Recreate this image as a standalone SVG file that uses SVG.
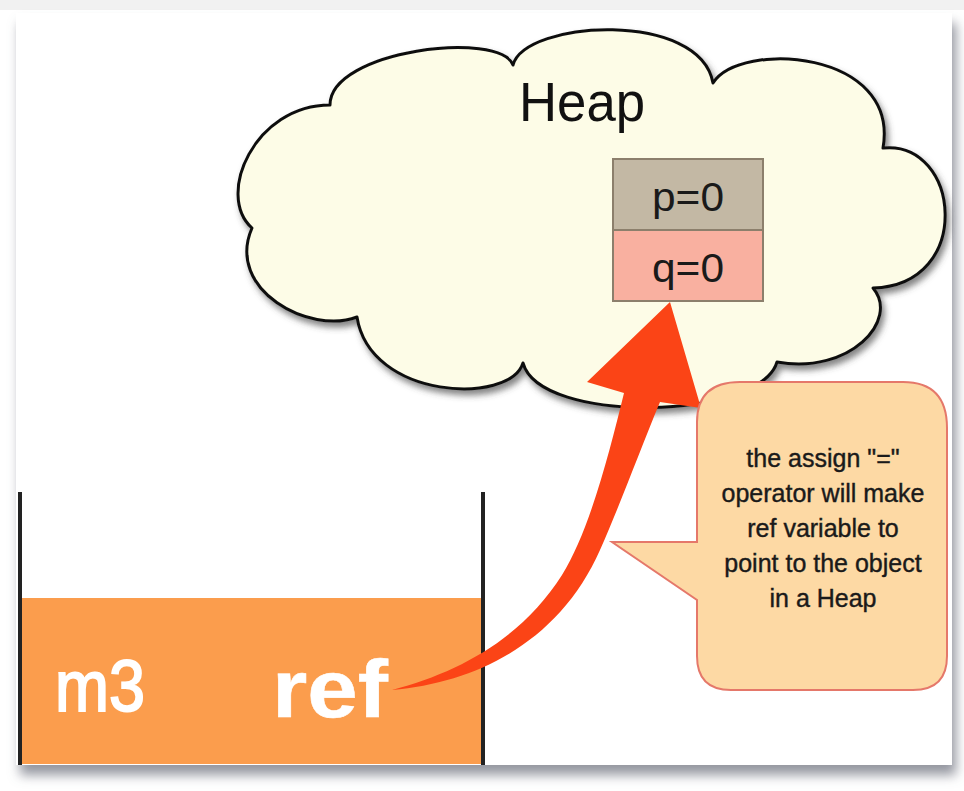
<svg xmlns="http://www.w3.org/2000/svg" width="964" height="791" viewBox="0 0 964 791">
  <defs>
    <filter id="slideShadow" x="-5%" y="-5%" width="112%" height="115%">
      <feDropShadow dx="4" dy="10" stdDeviation="6" flood-color="#6f7380" flood-opacity="0.75"/>
    </filter>
    <filter id="cloudShadow" x="-5%" y="-5%" width="115%" height="120%">
      <feDropShadow dx="3" dy="5" stdDeviation="3" flood-color="#444" flood-opacity="0.65"/>
    </filter>
    <style>
      .hand { font-family: "Liberation Sans", "DejaVu Sans", sans-serif; }
      .cell-text { font-size: 40px; fill: #1a1a1a; text-anchor: middle; }
      .note { font-size: 25px; fill: #1a1a1a; text-anchor: middle; stroke: #1a1a1a; stroke-width: 0.4; }
      .stack-label { fill: #ffffff; stroke: #ffffff; }
      .wall { stroke: #222; stroke-width: 4; fill: none; }
    </style>
  </defs>

  <rect width="964" height="791" fill="#ffffff"/>
  <rect x="0" y="0" width="964" height="10" fill="#f1f1f1"/>

  <g id="slide">
    <rect x="16" y="13" width="936" height="752" fill="#ffffff" filter="url(#slideShadow)"/>
  </g>

  <g id="stack-frame-m3">
    <rect x="22" y="598" width="460" height="166" fill="#fb9d4d"/>
    <line class="wall" x1="20" y1="492" x2="20" y2="765"/>
    <line class="wall" x1="483" y1="492" x2="483" y2="765"/>
    <text class="hand stack-label" x="55" y="711" font-size="72" stroke-width="2" textLength="90" lengthAdjust="spacingAndGlyphs">m3</text>
    <text class="hand stack-label" x="272" y="717" font-size="82" font-weight="bold" stroke-width="0.5" textLength="116" lengthAdjust="spacingAndGlyphs">ref</text>
  </g>

  <g id="heap">
    <path d="M 252,228 C 215,195 255,105 330,105 C 330,50 500,30 513,65 C 525,20 700,10 713,83 C 740,40 900,50 883,148 C 960,140 975,285 873,288 C 900,320 850,375 777,362 C 760,420 540,425 523,363 C 510,405 370,400 357,317 C 310,335 225,290 252,228 Z" fill="#fdfce7" stroke="#111" stroke-width="3" stroke-linejoin="round" filter="url(#cloudShadow)"/>
    <text class="hand" x="582" y="121" font-size="56" fill="#111" text-anchor="middle" textLength="126" lengthAdjust="spacingAndGlyphs">Heap</text>
  </g>

  <g id="obj-p">
    <rect x="613" y="159" width="150" height="71" fill="#c3b8a4" stroke="#8c7f6c" stroke-width="2"/>
    <text class="hand cell-text" x="688" y="211" textLength="72" lengthAdjust="spacingAndGlyphs">p=0</text>
  </g>
  <g id="obj-q">
    <rect x="613" y="230" width="150" height="71" fill="#f9b0a0" stroke="#8c7f6c" stroke-width="2"/>
    <text class="hand cell-text" x="688" y="282" textLength="72" lengthAdjust="spacingAndGlyphs">q=0</text>
  </g>

  <g id="connectors">
    <path id="ref-arrow" d="M 392,690 C 480,682 560,640 600,550 C 620,505 640,450 660,402 L 701,408 L 670,302 L 587,382 L 624,393 C 610,450 590,530 562,575 C 522,638 460,672 392,690 Z" fill="#fb4416"/>
  </g>

  <g id="callout">
    <path d="M 740,382 H 903 Q 947,382 947,428 V 656 Q 947,690 913,690 H 731 Q 697,690 697,656 V 600 L 612,542 L 697,542 V 422 Q 697,382 740,382 Z" fill="#fdd9a4" stroke="#e5786a" stroke-width="2"/>
    <text class="hand note" x="823" y="467">the assign "="</text>
    <text class="hand note" x="823" y="502">operator will make</text>
    <text class="hand note" x="823" y="537">ref variable to</text>
    <text class="hand note" x="823" y="572">point to the object</text>
    <text class="hand note" x="823" y="607">in a Heap</text>
  </g>
</svg>
